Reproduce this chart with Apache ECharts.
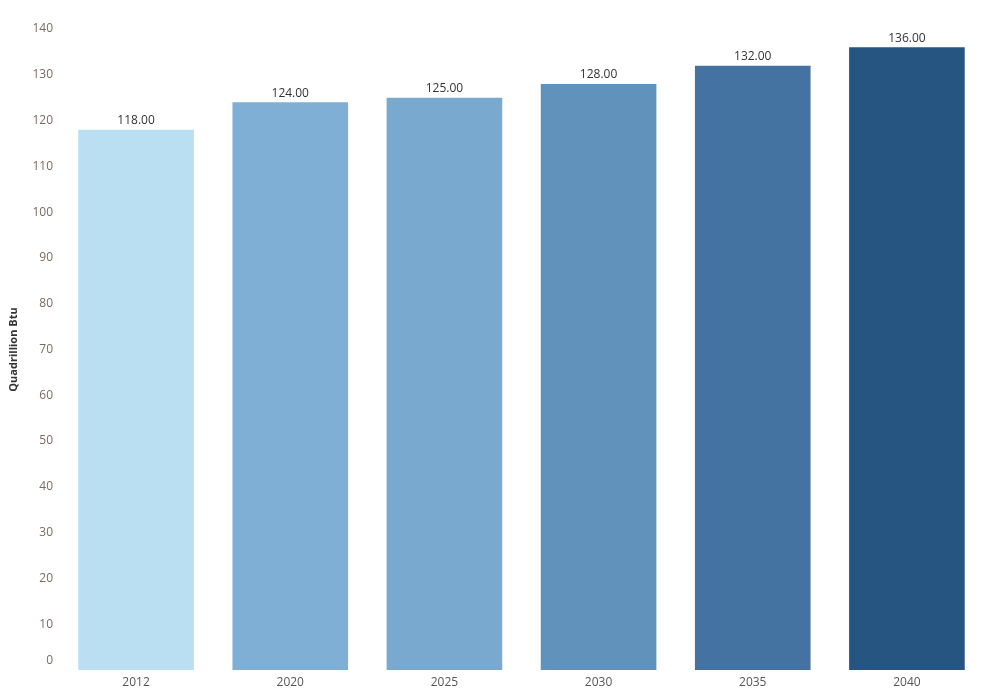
<!DOCTYPE html>
<html>
<head>
<meta charset="utf-8">
<script src="https://cdn.jsdelivr.net/npm/echarts@6/dist/echarts.min.js"></script>
<style>
  html, body { margin: 0; padding: 0; background: #fff; }
  #chart { width: 984px; height: 700px; }
</style>
</head>
<body>
<div id="chart"></div>
<script>
var years = ['2012', '2020', '2025', '2030', '2035', '2040'];
var values = [118, 124, 125, 128, 132, 136];
var barColors = ['#bbdff2', '#80afd6', '#79a9cf', '#6092bb', '#4473a1', '#265582'];

var chart = echarts.init(document.getElementById('chart'));

var option = {
    animation: false,
    grid: { left: 59, right: 0, top: 29, bottom: 30 },
    xAxis: {
        type: 'category',
        data: years,
        axisLine: { show: false },
        axisTick: { show: false },
        axisLabel: {
            color: '#555',
            fontFamily: 'Open Sans',
            fontSize: 12,
            margin: 7
        }
    },
    yAxis: {
        type: 'value',
        min: 0,
        max: 140,
        interval: 10,
        name: 'Quadrillion Btu',
        nameLocation: 'middle',
        nameGap: 40,
        nameTextStyle: {
            color: '#333',
            fontFamily: 'Open Sans',
            fontSize: 11,
            fontWeight: 'bold'
        },
        splitLine: { show: false },
        axisLine: { show: false },
        axisTick: { show: false },
        axisLabel: {
            color: '#7a6a62',
            fontFamily: 'Open Sans',
            fontSize: 12,
            margin: 6,
            formatter: function (v) {
                return v === 0 ? '{z|0}' : String(v);
            },
            rich: {
                z: { color: '#7a6a62', fontFamily: 'Open Sans', fontSize: 12, padding: [0, 0, 18, 0] }
            }
        }
    },
    series: [{
        type: 'bar',
        barCategoryGap: '25%',
        data: values.map(function (v, i) {
            return { value: v, itemStyle: { color: barColors[i] } };
        }),
        label: {
            show: true,
            position: 'top',
            distance: 3,
            color: '#333',
            fontFamily: 'Open Sans',
            fontSize: 12,
            formatter: function (p) { return p.value.toFixed(2); }
        }
    }]
};

chart.setOption(option);
</script>
</body>
</html>
